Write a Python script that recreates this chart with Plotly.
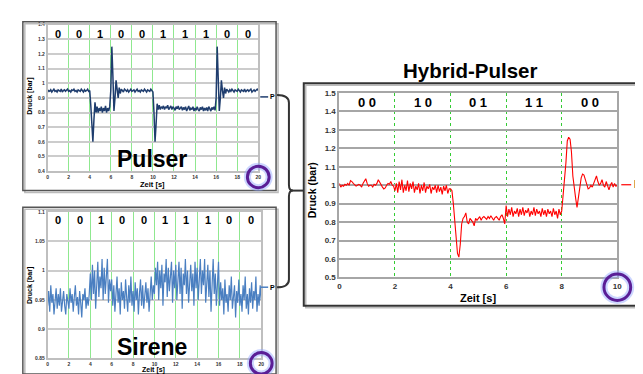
import plotly.graph_objects as go

W, H = 643, 374

# ---------------- data ----------------
pulser_bits = ["0", "0", "1", "0", "0", "1", "1", "1", "0", "0"]
hybrid_pairs = ["0 0", "1 0", "0 1", "1 1", "0 0"]
pulser_xticks = [0, 2, 4, 6, 8, 10, 12, 14, 16, 18, 20]
hybrid_xticks = [0, 2, 4, 6, 8, 10]

pulser_p = (
    [0.94, 0.95, 0.945, 0.955, 0.94, 0.95, 0.96, 0.945, 0.95, 0.94, 0.955, 0.95, 0.945, 0.96,
     0.94, 0.95, 0.955, 0.945, 0.95, 0.96, 0.945, 0.95, 0.94, 0.955, 0.95, 0.96, 0.945, 0.95,
     0.94, 0.955, 0.95, 0.945, 0.96, 0.95, 0.94, 0.955, 0.945, 0.95, 0.96, 0.945, 0.95]
    + [0.85, 0.68, 0.6, 0.75, 0.87, 0.8, 0.84, 0.8, 0.83]
    + [0.81, 0.84, 0.8, 0.83, 0.81, 0.845, 0.8, 0.83, 0.81, 0.84]
    + [0.95, 1.25, 1.05, 0.81, 0.9, 1.02, 0.96, 0.9, 0.97, 0.93]
    + [0.96, 0.95, 0.94, 0.96, 0.95, 0.945, 0.955, 0.94, 0.95, 0.96,
       0.945, 0.95, 0.955, 0.94, 0.95, 0.96, 0.945, 0.95, 0.94, 0.955,
       0.95, 0.945, 0.96, 0.95, 0.94, 0.955, 0.95, 0.945, 0.96, 0.95]
    + [0.94, 0.8, 0.6, 0.72, 0.86, 0.82, 0.85, 0.82, 0.84, 0.83]
    + [0.845, 0.82, 0.84, 0.83, 0.85, 0.82, 0.835, 0.845, 0.82, 0.84,
       0.83, 0.815, 0.84, 0.825, 0.845, 0.82, 0.83, 0.84, 0.815, 0.835,
       0.82, 0.84, 0.81, 0.83, 0.845, 0.815, 0.83, 0.82, 0.84, 0.81,
       0.83, 0.815, 0.84, 0.82, 0.81, 0.835, 0.82, 0.84, 0.81, 0.83,
       0.815, 0.835, 0.81, 0.84, 0.82, 0.81, 0.835, 0.82, 0.84, 0.815]
    + [0.9, 1.25, 1.03, 0.81, 0.9, 1.02, 0.95, 0.9, 0.97, 0.93]
    + [0.96, 0.95, 0.94, 0.955, 0.945, 0.96, 0.95, 0.94, 0.955, 0.95,
       0.945, 0.96, 0.95, 0.94, 0.955, 0.95, 0.945, 0.96, 0.94, 0.95,
       0.955, 0.945, 0.95, 0.96, 0.94, 0.95, 0.955, 0.945, 0.95, 0.96]
    + [0.95]
)

sirene_p = (
    [0.94, 0.965, 0.93, 0.975, 0.945, 0.96, 0.925, 0.955, 0.97, 0.935, 0.96, 0.94, 0.97, 0.93,
     0.955, 0.965, 0.94, 0.925, 0.96, 0.95, 0.935, 0.97, 0.945, 0.96, 0.93, 0.955, 0.975, 0.94,
     0.955, 0.925, 0.965, 0.945, 0.92, 0.96, 0.95, 0.97, 0.935, 0.955, 0.94, 0.96]
    + [0.995, 0.95, 1.01, 0.96, 1.0, 0.935, 0.98, 1.015, 0.955, 0.99, 0.97, 1.02, 0.95, 1.005,
       0.96, 0.99, 1.02, 0.945, 0.985, 0.965]
    + [0.985, 0.94, 0.975, 0.93, 0.96, 0.99, 0.945, 0.97, 0.925, 0.98, 0.95, 0.965, 0.935, 0.985,
       0.955, 0.93, 0.975, 0.945, 0.99, 0.94, 0.965, 0.93, 0.98, 0.95, 0.97, 0.925, 0.96, 0.985,
       0.94, 0.975, 0.935, 0.96, 0.98, 0.945, 0.97, 0.93, 0.965, 0.99, 0.95, 0.975]
    + [0.96, 1.005, 0.975, 1.015, 0.95, 1.0, 0.97, 1.01, 0.94, 0.995, 0.98, 1.02, 0.955, 1.005,
       0.965, 0.99, 1.015, 0.945, 1.0, 0.97,
       1.01, 0.95, 0.99, 1.015, 0.96, 1.005, 0.935, 0.995, 0.975, 1.02, 0.96, 1.0, 0.945, 0.985,
       1.01, 0.965, 0.995, 0.94, 1.015, 0.97,
       1.005, 0.95, 0.99, 1.02, 0.96, 1.0, 0.975, 1.02, 0.945, 0.99, 1.01, 0.955, 1.0, 0.93,
       0.985, 1.02, 0.96, 0.995, 0.94, 0.98]
    + [1.015, 0.94, 0.98, 0.95, 0.97, 0.925, 0.985, 0.945, 0.96, 0.93, 0.975, 0.95, 0.99, 0.935,
       0.96, 0.975, 0.92, 0.965, 0.945, 0.985, 0.94, 0.96, 0.93, 0.975, 0.95, 0.99, 0.935, 0.96,
       0.925, 0.97, 0.945, 0.98, 0.935, 0.965, 0.95, 0.99, 0.93, 0.96, 0.94, 0.975, 0.95]
)

hybrid_p = (
    [1.01, 0.99, 1.0, 0.995, 1.005, 1.0, 1.01, 1.0, 1.025, 1.02, 1.01, 1.0, 0.995, 1.0, 1.005,
     1.0, 0.99, 1.01, 1.02, 1.035, 1.01, 0.995, 1.0, 1.0, 0.99, 1.005, 1.0, 1.01, 1.03, 1.015,
     1.0, 0.99, 0.98, 0.985, 1.0, 1.01, 1.005, 1.02, 1.0, 0.995]
    + [0.97, 1.01, 0.96, 1.02, 0.975, 1.03, 0.96, 1.0, 0.97, 1.025, 0.965, 1.01, 0.98, 1.02,
       0.96, 0.995, 0.975, 1.01, 0.955, 1.0, 0.97, 1.015, 0.96, 0.995, 0.98, 1.005, 0.955, 0.99,
       0.975, 1.0, 0.96, 1.0, 0.965, 0.99, 0.95, 0.995, 0.97, 1.0, 0.955, 0.98]
    + [0.98, 0.97, 0.9, 0.8, 0.7, 0.63, 0.61, 0.68, 0.79, 0.82, 0.83, 0.85, 0.8, 0.79, 0.82,
       0.81, 0.8, 0.78, 0.82, 0.81]
    + [0.82, 0.83, 0.81, 0.825, 0.83, 0.82, 0.815, 0.83, 0.82, 0.835, 0.82, 0.81, 0.825, 0.83,
       0.82, 0.81, 0.83, 0.84, 0.82, 0.79]
    + [0.89, 0.83, 0.87, 0.84, 0.88, 0.83, 0.86, 0.845, 0.875, 0.83, 0.87, 0.84, 0.88, 0.835,
       0.865, 0.85, 0.875, 0.83, 0.86, 0.84, 0.88, 0.835, 0.87, 0.845, 0.86, 0.83, 0.875, 0.84,
       0.865, 0.83, 0.87, 0.845, 0.86, 0.83, 0.875, 0.84, 0.86, 0.82, 0.87, 0.84]
    + [0.86, 0.95, 1.0, 1.12, 1.24, 1.26, 1.25, 1.18, 1.05, 0.97, 0.93, 0.88, 0.94, 1.0, 1.04,
       1.06, 1.055, 1.03, 1.0, 0.98, 0.985, 1.0, 0.99, 1.01, 1.03, 1.05, 1.02, 1.0, 1.01, 1.03,
       1.0, 0.99, 1.02, 1.0, 0.975, 1.0, 1.015, 0.99, 1.01, 0.995, 1.0]
)

assert len(pulser_p) == 201 and len(sirene_p) == 201 and len(hybrid_p) == 201
t20 = [round(i * 0.1, 2) for i in range(201)]
t10 = [round(i * 0.05, 3) for i in range(201)]


# ---------------- helpers ----------------
def px(x):
    return x / W


def py(y):
    return 1 - y / H


FONT = "Liberation Sans, Arial, sans-serif"

fig = go.Figure()
fig.add_trace(go.Scatter(x=t20, y=pulser_p, mode="lines", line=dict(color="#1f3d6e", width=1.5),
                         xaxis="x", yaxis="y", showlegend=False, hoverinfo="skip"))
fig.add_trace(go.Scatter(x=t20, y=sirene_p, mode="lines", line=dict(color="#4a7fc1", width=1.2),
                         xaxis="x2", yaxis="y2", showlegend=False, hoverinfo="skip"))
fig.add_trace(go.Scatter(x=t10, y=hybrid_p, mode="lines", line=dict(color="#ff0000", width=1.1),
                         xaxis="x3", yaxis="y3", showlegend=False, hoverinfo="skip"))

small_tick = dict(family=FONT, size=5, color="#333", weight="bold")
common_x = dict(showline=True, linecolor="#bfbfbf", linewidth=1.5, mirror=True, ticks="",
                zeroline=False)

fig.update_layout(
    width=W, height=H, margin=dict(l=0, r=0, t=0, b=0),
    paper_bgcolor="white", plot_bgcolor="white",
    xaxis=dict(domain=[px(38), px(251)], range=[0, 20], tickvals=pulser_xticks,
               gridcolor="#8fe88f", gridwidth=1, tickfont=small_tick, anchor="y", **common_x),
    yaxis=dict(domain=[py(163), py(13)], range=[0.4, 1.4], dtick=0.1, gridcolor="#cccccc",
               gridwidth=1.5, tickfont=small_tick, anchor="x", **common_x),
    xaxis2=dict(domain=[px(38), px(254)], range=[0, 20], tickvals=pulser_xticks,
                gridcolor="#8fe88f", gridwidth=1, tickfont=small_tick, anchor="y2", **common_x),
    yaxis2=dict(domain=[py(355), py(205)], range=[0.85, 1.1], dtick=0.05, gridcolor="#cccccc",
                gridwidth=1.5, tickfont=small_tick, anchor="x2", **common_x),
    xaxis3=dict(domain=[px(333), px(614)], range=[0, 10], tickvals=hybrid_xticks,
                gridcolor="#33cc33", gridwidth=1, griddash="dot", anchor="y3",
                tickfont=dict(family=FONT, size=8, color="#333", weight="bold"),
                showline=True, linecolor="#a6a6a6", linewidth=2, mirror=True, ticks="",
                zeroline=False),
    yaxis3=dict(domain=[py(272), py(83)], range=[0.5, 1.5], dtick=0.1, gridcolor="#a6a6a6",
                gridwidth=2, anchor="x3",
                tickfont=dict(family=FONT, size=8, color="#333", weight="bold"),
                showline=True, linecolor="#a6a6a6", linewidth=2, mirror=True, ticks="",
                zeroline=False),
)

ann = []
# bit labels
for i, b in enumerate(pulser_bits):
    ann.append(dict(x=2 * i + 1, y=1.335, xref="x", yref="y", text=b, showarrow=False,
                    font=dict(family=FONT, size=11, color="black", weight="bold")))
    ann.append(dict(x=2 * i + 1, y=1.087, xref="x2", yref="y2", text=b, showarrow=False,
                    font=dict(family=FONT, size=11, color="black", weight="bold")))
for i, b in enumerate(hybrid_pairs):
    ann.append(dict(x=2 * i + 1, y=1.447, xref="x3", yref="y3", text=b, showarrow=False,
                    font=dict(family=FONT, size=13, color="black", weight="bold")))


def text(x, y, s, size, angle=0, color="black"):
    ann.append(dict(x=px(x), y=py(y), xref="paper", yref="paper", text=s, showarrow=False,
                    textangle=angle, xanchor="center", yanchor="middle",
                    font=dict(family=FONT, size=size, color=color, weight="bold")))


# axis titles
text(20, 86, "Druck [bar]", 7, -90)
text(144, 177, "Zeit [s]", 7.5)
text(20, 280, "Druck [bar]", 7, -90)
text(145, 367, "Zeit [s]", 7)
text(305, 183, "Druck (bar)", 10.5, -90)
text(473, 293, "Zeit [s]", 11)
# big labels
text(144, 151, "Pulser", 23)
text(144, 343, "Sirene", 23)
text(465, 60, "Hybrid-Pulser", 20.5)
# legend "P"
text(265, 87, "P", 7)
text(265, 282, "P", 7)
text(634, 177, "P", 10)
fig.update_layout(annotations=ann)

shapes = []


def rect(x0, y0, x1, y1, color, w):
    shapes.append(dict(type="rect", xref="paper", yref="paper", x0=px(x0), x1=px(x1),
                       y0=py(y1), y1=py(y0), line=dict(color=color, width=w)))


def hline(x0, x1, y, color, w):
    shapes.append(dict(type="line", xref="paper", yref="paper", x0=px(x0), x1=px(x1),
                       y0=py(y), y1=py(y), line=dict(color=color, width=w)))


def circle(cx, cy, r, color, w, opacity=1.0):
    shapes.append(dict(type="circle", xref="paper", yref="paper", x0=px(cx - r), x1=px(cx + r),
                       y0=py(cy + r), y1=py(cy - r), line=dict(color=color, width=w),
                       opacity=opacity))


# frames (shadow + border)
rect(15, 12, 271, 185, "#bbbbbb", 1.5)
rect(13, 10, 269, 183, "#555555", 1.5)
rect(15, 202, 271, 373, "#bbbbbb", 1.5)
rect(13, 200, 269, 371, "#555555", 1.5)
rect(299, 75, 643, 303, "#bbbbbb", 1.5)
rect(297, 73, 641, 301, "#333333", 2)

# legend lines
hline(253, 261, 87, "#1f3d6e", 1.5)
hline(253, 261, 282, "#4a7fc1", 1.5)
hline(618, 628, 177, "#ff0000", 1.2)

# bracket
pts = "M {a},{b} Q {c},{b} {c},{d} L {c},{e} Q {c},{f} {g},{f} Q {c},{f} {c},{h} L {c},{i} Q {c},{j} {a},{j}"
path = pts.format(a=px(270), b=py(85), c=px(282), d=py(93), e=py(177), f=py(183), g=px(286),
                  h=py(189), i=py(274), j=py(282))
shapes.append(dict(type="path", xref="paper", yref="paper", path=path,
                   line=dict(color="#333333", width=2)))
hline(284, 297, 183, "#333333", 2)

# circles (glow + ring)
for cx, cy, r in [(251, 169, 11), (254, 360, 11), (614, 282, 13.5)]:
    circle(cx, cy, r, "#8fa6ff", 7, 0.45)
    circle(cx, cy, r, "#5a1e96", 3)

fig.update_layout(shapes=shapes)

fig.write_html("out.html")
